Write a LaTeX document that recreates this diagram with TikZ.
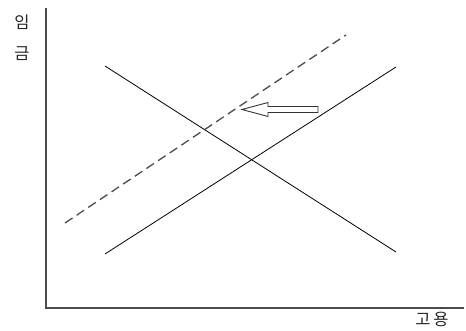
\documentclass[tikz,border=0pt]{standalone}
\usepackage{fontspec}
\newfontfamily\kr{Noto Sans CJK KR}[Scale=1]
\begin{document}
\begin{tikzpicture}[x=1pt,y=-1pt,
  axis/.style={draw=black!70,line width=1.5pt},
  curve/.style={draw=black,line width=0.8pt},
  shifted/.style={draw=black!70,line width=1.3pt,dash pattern=on 9pt off 5pt},
  lbl/.style={font=\kr\fontsize{16.5}{16.5}\selectfont,text=black!85,inner sep=0pt}]
\useasboundingbox (0,0) rectangle (466,331);
\coordinate (o) at (46,308);
\coordinate (ytop) at (46,8);
\coordinate (xend) at (464,308);
\draw[axis] (ytop) -- (o) -- (xend);
\coordinate (d1) at (105,66);
\coordinate (d2) at (396,252);
\coordinate (s1) at (105,254);
\coordinate (s2) at (396,67);
\coordinate (n1) at (65,223);
\coordinate (n2) at (346,35);
\draw[curve] (d1) -- (d2);
\draw[curve] (s1) -- (s2);
\draw[shifted] (n1) -- (n2);
\draw[black!80,line width=0.9pt,fill=white]
  (318,106.5) -- (268,106.5) -- (268,102.5) -- (242,109.5) -- (268,116.5) -- (268,112.5) -- (318,112.5) -- cycle;
\node[lbl] (w1) at (22,22) {임};
\node[lbl] (w2) at (22,54) {금};
\node[lbl] (emp) at (432,319) {고\,용};
\end{tikzpicture}
\end{document}
